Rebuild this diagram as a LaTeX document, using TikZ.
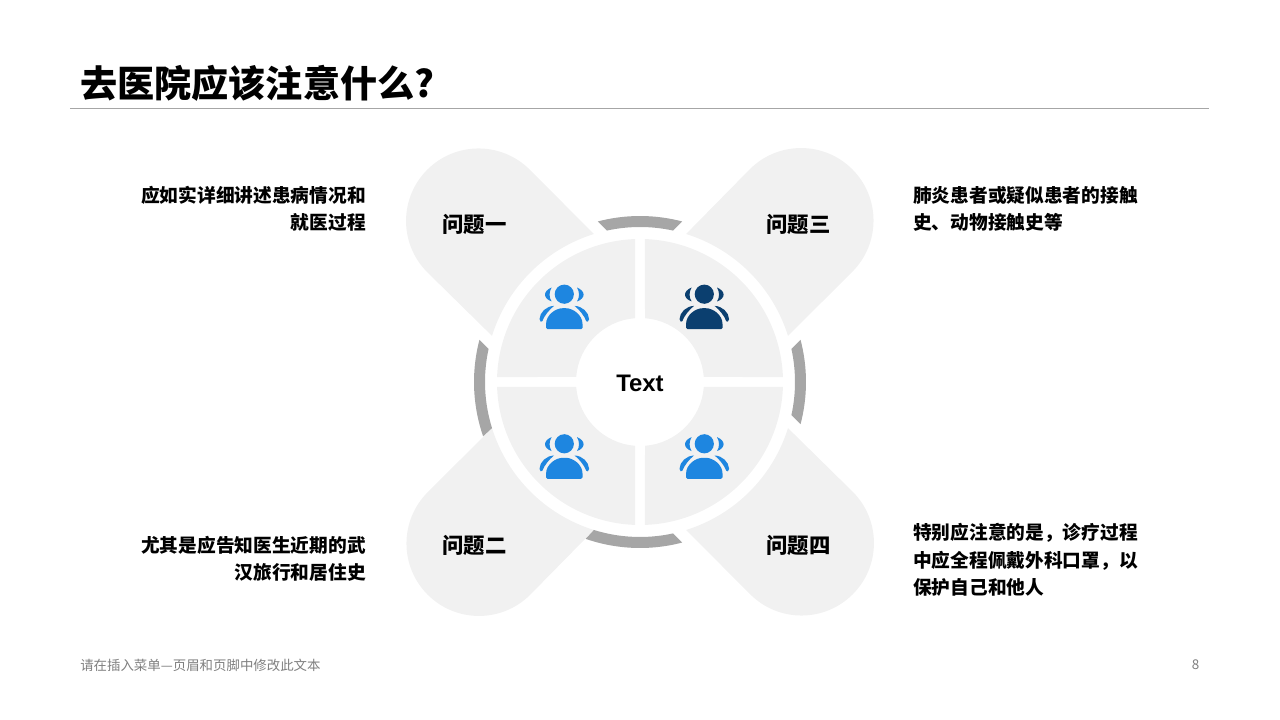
\documentclass[tikz,border=0pt]{standalone}
\usepackage{fontspec}
\setmainfont{Noto Sans CJK SC}
\newfontfamily\latinfont{Liberation Sans}
\usetikzlibrary{positioning}

\definecolor{petalgray}{HTML}{F1F1F1}
\definecolor{ringgray}{HTML}{A6A6A6}
\definecolor{iconblue}{HTML}{1E86E0}
\definecolor{icondark}{HTML}{0B3F6F}
\definecolor{footgray}{HTML}{7F7F7F}

\tikzset{
    people/.pic={
        \fill[#1] (0,0) circle (9.6);
        \fill[#1,rounded corners=1] (-18.2,-35) -- (-18.2,-31) .. controls (-18.2,-21) and (-9,-14) .. (0,-14)
            .. controls (9,-14) and (18.2,-21) .. (18.2,-31) -- (18.2,-35) -- cycle;
        \foreach \side in {-1,1} {
            \fill[#1,xscale=\side] (-12.7,6.7) .. controls (-21.5,3) and (-21.5,-4) .. (-12.7,-7.3)
                .. controls (-15.4,-3) and (-15.4,2) .. (-12.7,6.7) -- cycle;
            \fill[#1,xscale=\side] (-10.3,-11.7) .. controls (-18,-12) and (-24.5,-18) .. (-24.8,-25)
                .. controls (-24.8,-27.5) and (-22.5,-28.5) .. (-22,-27)
                .. controls (-20,-21.5) and (-15,-15.5) .. (-10.3,-11.7) -- cycle;
        }
    }
}

\begin{document}
\begin{tikzpicture}[
        x=0.025cm,
        y=0.025cm,
        title/.style={font=\fontsize{26.4}{30}\selectfont\bfseries, inner sep=0pt, anchor=west},
        petal/.style={font=\fontsize{15.2}{18}\selectfont\bfseries, inner sep=0pt},
        desc/.style={font=\fontsize{13.3}{19.5}\selectfont\bfseries, inner sep=0pt},
        foot/.style={font=\fontsize{9.55}{12}\selectfont, text=footgray, inner sep=0pt}
    ]
      \useasboundingbox (-640,-338) rectangle (640,382);

      % petals and quadrants
      \foreach \turn in {0,90,180,270} {
        \begin{scope}[rotate=\turn]
          \fill[petalgray] (107.3:155) -- (-110.2,212.3) arc[start angle=45, end angle=225, radius=72.5]
              -- (162.7:155) arc[start angle=162.7, end angle=107.3, radius=155] -- cycle;
          \fill[petalgray] (92:143) arc[start angle=92, end angle=178, radius=143]
              -- (175.52:64) arc[start angle=175.52, end angle=94.48, radius=64] -- cycle;
        \end{scope}
      }

      % ring pieces, the two next to the lower left petal run up to it
      \foreach \turn/\co/\ci/\wo/\wi in {0/14.7/12.3/14.7/12.3, 90/19.1/17.3/14.7/12.3, 180/14.7/12.3/19.1/17.3, 270/14.7/12.3/14.7/12.3} {
        \fill[ringgray, rotate=\turn] ({90-\wo}:166) arc[start angle={90-\wo}, end angle={90+\co}, radius=166]
            -- ({90+\ci}:155) arc[start angle={90+\ci}, end angle={90-\wi}, radius=155] -- cycle;
      }

      \node[title] (head) at (-560,299) {去医院应该注意什么?};
      \coordinate (ruleL) at (-570,274);
      \coordinate (ruleR) at (569,274);
      \draw[ringgray, line width=0.6pt] (ruleL) -- (ruleR);

      \node[font=\fontsize{17}{20}\selectfont\latinfont\bfseries, inner sep=0pt] (core) at (0,-1) {Text};

      \pic (ico1) at (-75.7,87.8) {people=iconblue};
      \pic (ico3) at (64.3,87.8) {people=icondark};
      \pic (ico2) at (-75.7,-61.8) {people=iconblue};
      \pic (ico4) at (64.3,-61.8) {people=iconblue};

      \node[petal] (q1) at (-165.5,157.5) {问题一};
      \node[petal] (q3) at (158.5,157.5) {问题三};
      \node[petal] (q2) at (-165.5,-163.5) {问题二};
      \node[petal] (q4) at (158.5,-163.5) {问题四};

      \node[desc, anchor=east, align=right] (d1) at (-274,173) {应如实详细讲述患病情况和\\就医过程};
      \node[desc, anchor=east, align=right] (d2) at (-274,-177) {尤其是应告知医生近期的武\\汉旅行和居住史};
      \node[desc, anchor=west, align=left] (d3) at (273,173) {肺炎患者或疑似患者的接触\\史、动物接触史等};
      \node[desc, anchor=west, align=left] (d4) at (273,-178) {特别应注意的是，诊疗过程\\中应全程佩戴外科口罩，以\\保护自己和他人};

      \node[foot, anchor=west] (note) at (-560,-283) {请在插入菜单—页眉和页脚中修改此文本};
      \node[foot] (page) at (555.5,-283) {8};
    \end{tikzpicture}
\end{document}
